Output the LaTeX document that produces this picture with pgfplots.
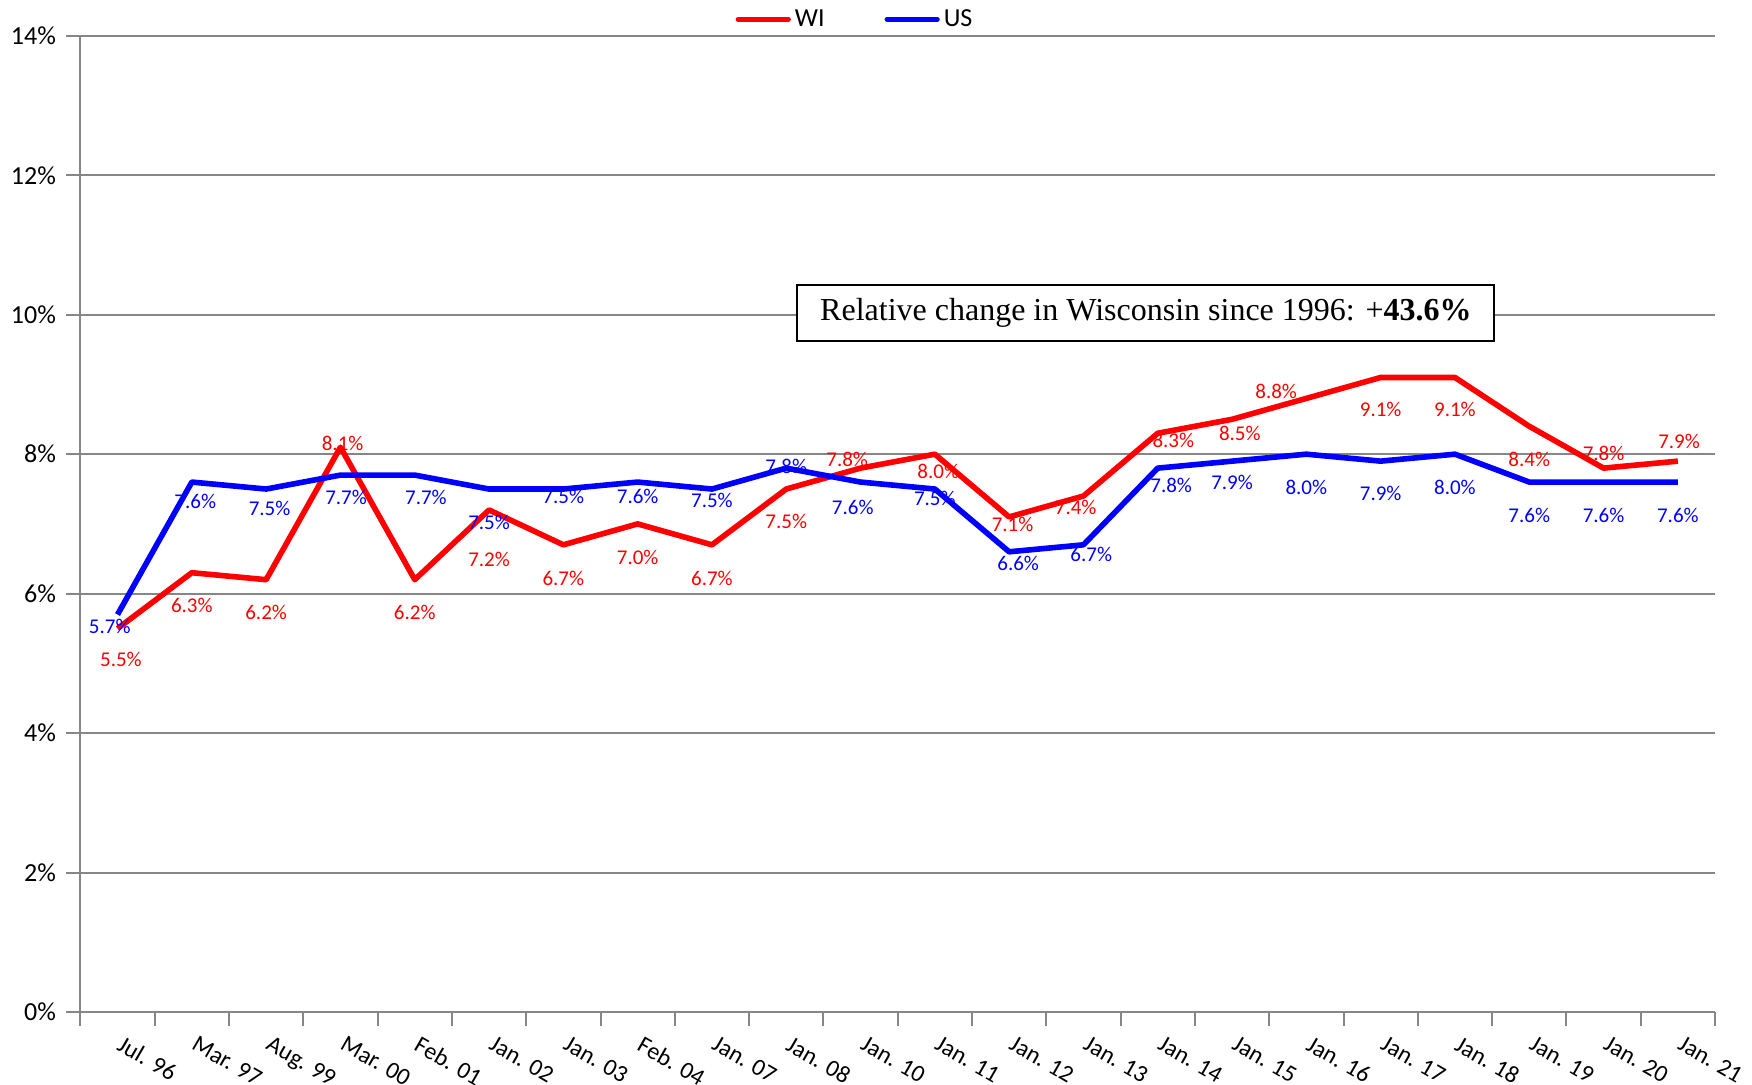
\documentclass[border=0pt]{standalone}
\usepackage{pgfplots}
\pgfplotsset{compat=1.18}
\usepackage{pgfplotstable}
\usepackage{fontspec}
\setmainfont{Carlito}
\newfontfamily\timesfont{Liberation Serif}
\definecolor{gridgray}{RGB}{134,134,134}
\definecolor{wired}{RGB}{255,0,0}
\definecolor{usblue}{RGB}{0,0,255}

\pgfplotstableread{
x y dx dy
0 5.5 1.7 -15.3
1 6.3 0 -16.4
2 6.2 0 -16.2
3 8.1 1.1 1.7
4 6.2 0 -16.2
5 7.2 0 -24.9
6 6.7 0 -16.9
7 7.0 0 -16.8
8 6.7 0 -16.9
9 7.5 0 -16.3
10 7.8 -6.7 4.5
11 8.0 1.7 -8.6
12 7.1 1.7 -3.5
13 7.4 -3.9 -5.6
14 8.3 7.8 -3.4
15 8.5 3.9 -7.1
16 8.8 -15.1 3.7
17 9.1 0 -16.2
18 9.1 0 -16.2
19 8.4 0 -16.4
20 7.8 0 7.3
21 7.9 0.6 10.1
}\wi

\pgfplotstableread{
x y dx dy
0 5.7 -3.9 -6.1
1 7.6 1.7 -9.8
2 7.5 1.7 -9.6
3 7.7 2.8 -11
4 7.7 5.6 -11
5 7.5 0 -16.9
6 7.5 0 -3.5
7 7.6 0 -7
8 7.5 0 -5.7
9 7.8 0 1.1
10 7.6 -3.9 -12.6
11 7.5 0 -4.6
12 6.6 4.5 -5.6
13 6.7 3.9 -4.6
14 7.8 6.7 -8.4
15 7.9 0 -10.6
16 8.0 0 -16.4
17 7.9 0 -16.2
18 8.0 0 -16.4
19 7.6 0 -16.5
20 7.6 0 -16.5
21 7.6 0 -16.5
}\us

\begin{document}
\begin{tikzpicture}
\useasboundingbox (-40.2pt,-36pt) rectangle (835.8pt,506pt);
\begin{axis}[
  at={(0pt,0pt)}, anchor=south west,
  scale only axis,
  width=817.3pt, height=488.1pt,
  xmin=-0.5, xmax=21.5,
  ymin=0, ymax=14,
  ytick={0,2,...,14},
  yticklabel={\pgfmathprintnumber{\tick}\%},
  xtick={-0.5,0.5,...,21.5},
  x tick label as interval,
  xticklabels={Jul. 96,Mar. 97,Aug. 99,Mar. 00,Feb. 01,Jan. 02,Jan. 03,Feb. 04,Jan. 07,Jan. 08,Jan. 10,Jan. 11,Jan. 12,Jan. 13,Jan. 14,Jan. 15,Jan. 16,Jan. 17,Jan. 18,Jan. 19,Jan. 20,Jan. 21},
  xticklabel style={xshift=3.2pt, yshift=-4.4pt, rotate=-30, anchor=north west, font=\fontsize{12}{14}\selectfont, inner sep=0pt},
  yticklabel style={font=\fontsize{13}{15}\selectfont, xshift=-1.7pt},
  /pgf/number format/assume math mode=true,
  axis lines*=left,
  axis line style={gridgray, line width=1pt},
  tick style={gridgray, line width=1pt},
  tick align=outside,
  major tick length=7pt,
  ymajorgrids=true,
  xmajorgrids=false,
  grid style={gridgray, line width=1pt},
  legend style={at={(0.4745,1)}, anchor=center, yshift=8.3pt, draw=none, fill=none,
    font=\fontsize{13}{15}\selectfont, legend columns=2,
    /tikz/every even column/.append style={column sep=28pt}},
  legend image code/.code={\draw[#1, line width=2.6pt, line cap=round] (0pt,0pt) -- (25pt,0pt);},
  nodes near coords={\pgfmathprintnumber[fixed,fixed zerofill,precision=1]{\pgfplotspointmeta}\%},
  point meta=explicit,
  visualization depends on={\thisrow{dx} \as \ldx},
  visualization depends on={\thisrow{dy} \as \ldy},
  every node near coord/.append style={anchor=center, xshift=\ldx pt, yshift=\ldy pt, font=\fontsize{10.5}{12}\selectfont, inner sep=0pt},
]
\addplot[wired, line width=2.8pt, line join=round, mark=none, every node near coord/.append style={text=wired}] table[x=x, y=y, meta=y] {\wi};
\addlegendentry{WI}
\addplot[usblue, line width=2.8pt, line join=round, mark=none, every node near coord/.append style={text=usblue}] table[x=x, y=y, meta=y] {\us};
\addlegendentry{US}
\node[draw=black, line width=1pt, fill=white, minimum width=348.5pt, minimum height=28pt, inner sep=0pt,
  font=\timesfont\fontsize{16}{19}\selectfont] at (axis cs:13.84,10.03)
  {\raisebox{-1pt}{Relative change in Wisconsin since 1996: +\textbf{43.6\%}}};
\end{axis}
\end{tikzpicture}
\end{document}
